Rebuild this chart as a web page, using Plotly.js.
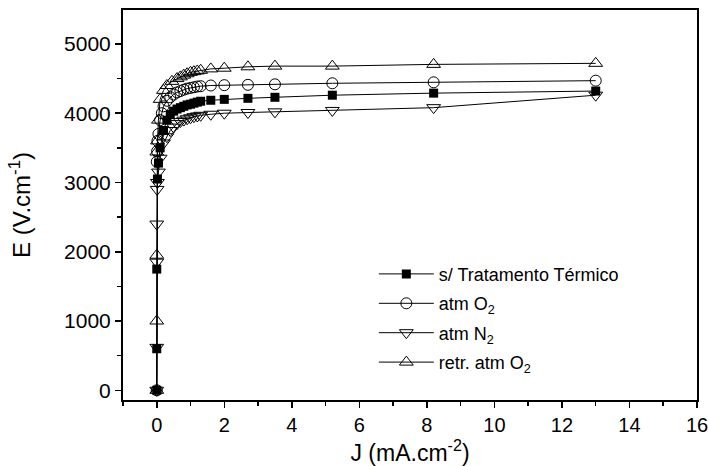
<!DOCTYPE html>
<html>
<head>
<meta charset="utf-8">
<script src="https://cdn.plot.ly/plotly-3.0.1.min.js"></script>
<style>html,body{margin:0;padding:0;background:#fff;}#chart{width:708px;height:466px;}</style>
</head>
<body>
<div id="chart"></div>
<script>
// s/ Tratamento Térmico
const jSem = [0, 0, 0, 0.02, 0.05, 0.1, 0.2, 0.3, 0.4, 0.5, 0.6, 0.7, 0.8, 0.9, 1.0, 1.1, 1.2, 1.3, 1.6, 2.0, 2.7, 3.5, 5.2, 8.2, 13.0];
const eSem = [0, 600, 1750, 3050, 3280, 3500, 3750, 3900, 3980, 4030, 4060, 4080, 4100, 4120, 4130, 4145, 4160, 4173, 4187, 4200, 4215, 4230, 4260, 4290, 4320];
// atm O2
const jO2 = [0, 0, 0.01, 0.02, 0.05, 0.1, 0.15, 0.2, 0.3, 0.4, 0.5, 0.6, 0.7, 0.8, 0.9, 1.0, 1.1, 1.2, 1.3, 1.6, 2.0, 2.7, 3.5, 5.2, 8.2, 13.0];
const eO2 = [0, 3300, 3450, 3600, 3700, 3900, 4000, 4100, 4180, 4230, 4270, 4300, 4320, 4340, 4355, 4365, 4375, 4385, 4390, 4400, 4405, 4410, 4417, 4432, 4446, 4470];
// atm N2
const jN2 = [0, 0, 0, 0, 0.01, 0.02, 0.05, 0.1, 0.2, 0.3, 0.4, 0.5, 0.6, 0.7, 0.8, 0.9, 1.0, 1.1, 1.2, 1.3, 1.6, 2.0, 2.7, 3.5, 5.2, 8.2, 13.0];
const eN2 = [0, 620, 1850, 2400, 2900, 3000, 3150, 3350, 3570, 3660, 3750, 3800, 3850, 3880, 3900, 3920, 3935, 3950, 3960, 3970, 3985, 4000, 4010, 4020, 4040, 4080, 4260];
// retr. atm O2
const jRetr = [0, 0, 0, 0, 0.02, 0.05, 0.1, 0.2, 0.3, 0.45, 0.6, 0.7, 0.8, 0.9, 1.0, 1.1, 1.2, 1.3, 1.6, 2.0, 2.7, 3.5, 5.2, 8.2, 13.0];
const eRetr = [0, 1000, 1950, 3440, 3600, 3900, 4200, 4330, 4400, 4460, 4500, 4525, 4550, 4570, 4590, 4600, 4610, 4620, 4640, 4650, 4670, 4680, 4680, 4705, 4720];

const names = ['s/ Tratamento Térmico', 'atm O<sub>2</sub>', 'atm N<sub>2</sub>', 'retr. atm O<sub>2</sub>'];
const xTickVals = [0, 2, 4, 6, 8, 10, 12, 14, 16];
const yTickVals = [0, 1000, 2000, 3000, 4000, 5000];

const lineStyle = {color: '#000', width: 1};
const traces = [
  {x: jSem, y: eSem, name: names[0], legendgroup: 'a', mode: 'lines+markers', line: lineStyle,
   marker: {symbol: 'square', size: 9, color: '#000'}},
  {x: jO2, y: eO2, name: names[1], legendgroup: 'b', mode: 'lines+markers', line: lineStyle,
   marker: {symbol: 'circle-open', size: 11, color: '#000', line: {width: 1, color: '#000'}}},
  {x: jN2, y: eN2, name: names[2], legendgroup: 'c', mode: 'lines+markers', line: lineStyle,
   marker: {symbol: 'triangle-down-open', size: 12, color: '#000', line: {width: 1, color: '#000'}}},
  {x: jRetr, y: eRetr, name: names[3], legendgroup: 'd', mode: 'lines+markers', line: lineStyle,
   marker: {symbol: 'triangle-up-open', size: 12, color: '#000', line: {width: 1, color: '#000'}}}
];

const font = {family: 'Liberation Sans, Arial, sans-serif', color: '#000', size: 18};
const layout = {
  width: 708, height: 466,
  margin: {l: 123, r: 11, t: 10, b: 66},
  paper_bgcolor: '#fff', plot_bgcolor: '#fff',
  font: font,
  showlegend: true,
  legend: {x: 0.437, y: 0.37, xanchor: 'left', yanchor: 'top', bgcolor: 'rgba(0,0,0,0)',
           traceorder: 'grouped', tracegroupgap: 3,
           font: {family: font.family, size: 18, color: '#000'}, itemwidth: 55},
  xaxis: {
    range: [-1, 16], tickvals: xTickVals, ticktext: xTickVals.map(String),
    ticks: 'outside', ticklen: 6, tickwidth: 1.5, tickcolor: '#000',
    minor: {dtick: 1, ticks: 'outside', ticklen: 4, tickwidth: 1.5, tickcolor: '#000'},
    showline: true, linecolor: '#000', linewidth: 2, mirror: true,
    showgrid: false, zeroline: false,
    ticklabeloverflow: 'allow',
    tickfont: {size: 20},
    title: {text: 'J (mA.cm<sup>-2</sup>)', font: {size: 23}, standoff: 4}
  },
  yaxis: {
    range: [-140, 5490], tickvals: yTickVals, ticktext: yTickVals.map(String),
    ticks: 'outside', ticklen: 6, tickwidth: 1.5, tickcolor: '#000',
    minor: {dtick: 500, ticks: 'outside', ticklen: 4, tickwidth: 1.5, tickcolor: '#000'},
    showline: true, linecolor: '#000', linewidth: 2, mirror: true,
    showgrid: false, zeroline: false,
    tickfont: {size: 21},
    title: {text: 'E (V.cm<sup>-1</sup>)', font: {size: 24}, standoff: 27}
  }
};

Plotly.newPlot('chart', traces, layout, {staticPlot: true, displayModeBar: false});
</script>
</body>
</html>
